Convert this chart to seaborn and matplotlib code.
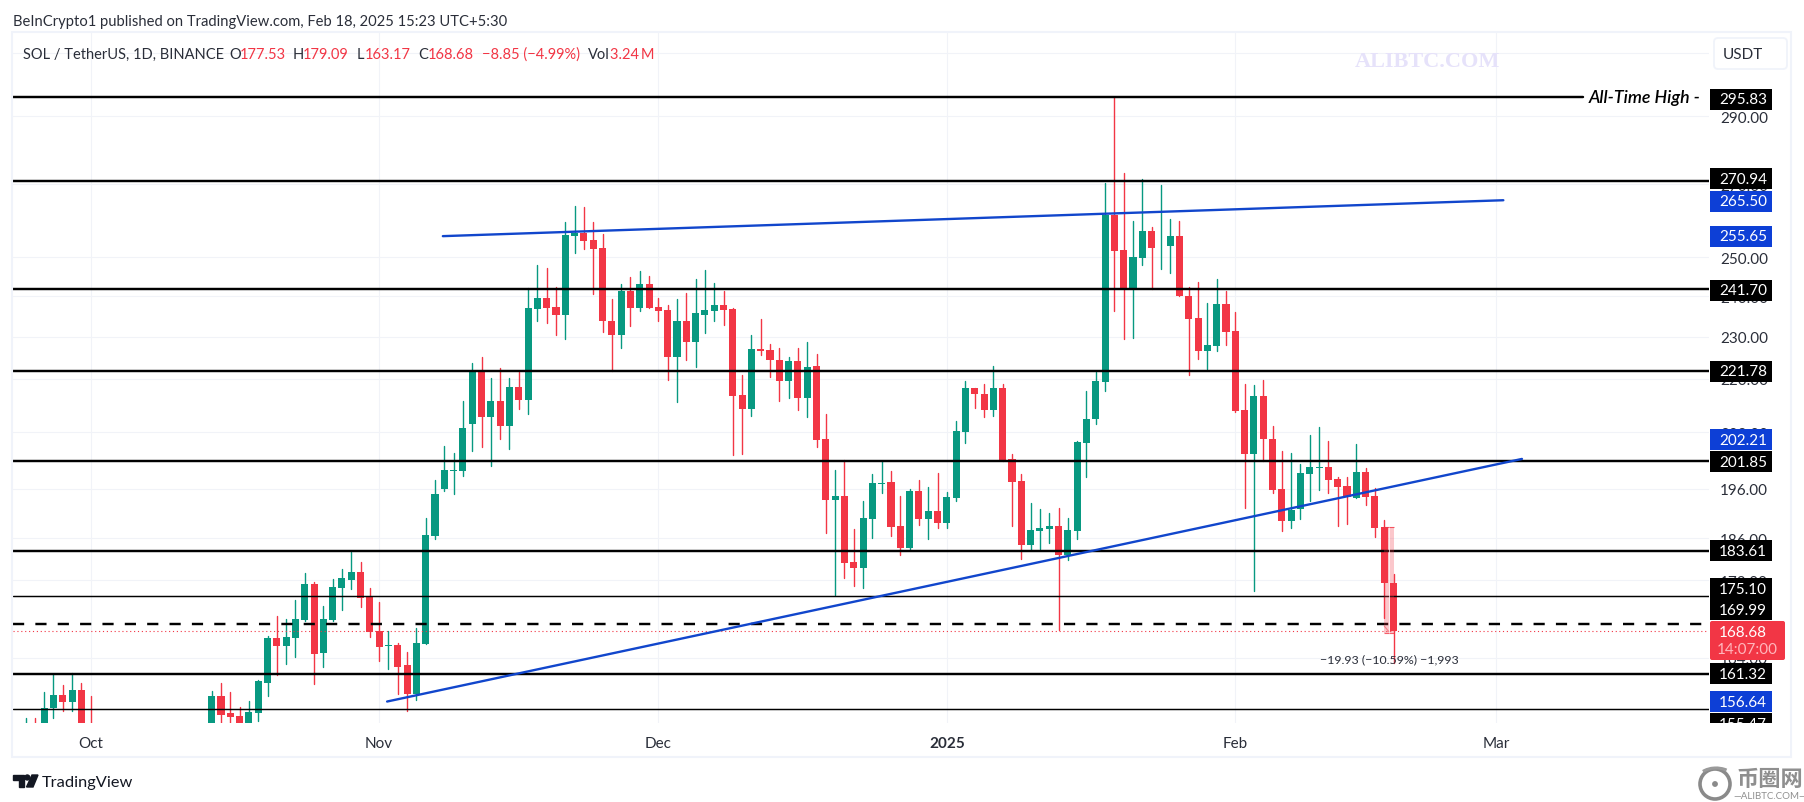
import pandas as pd
import matplotlib
matplotlib.use("Agg")
import matplotlib.pyplot as plt
import seaborn as sns
from matplotlib.patches import Rectangle, Circle, Polygon, FancyBboxPatch, Arc
from matplotlib.transforms import IdentityTransform

# candles visible in the pane (about 12 days in October sit below it)
first_run = pd.date_range("2024-09-24", "2024-10-01")
second_run = pd.date_range("2024-10-14", "2025-02-18")

opens = [
    150, 152, 150, 155.5, 157.8, 156.6, 158.6, 152,
    150, 157.6, 154.7, 154.3, 152, 154.7, 159.8, 167.4, 166.0, 167.4,
    170.7, 177.3, 164.9, 170.7, 176.6, 178.0, 179.5, 174.8, 168.7, 166.1,
    166.2, 162.7, 157.9, 166.4, 186.4, 196.0, 199.6, 199.6, 209.7, 221.5,
    211.3, 215.0, 209.3, 218.2, 215.2, 236.9, 239.6, 237.4, 235.2, 255.6,
    256.4, 254.6, 252.6, 233.9, 230.3, 241.4, 237.1, 243.2, 237.4, 236.6,
    225.2, 233.7, 228.8, 235.4, 236.4, 237.9, 236.9, 216.3, 213.2, 227.0,
    226.8, 224.5, 219.6, 224.1, 215.7, 223.1, 206.4, 193.6, 194.4, 181.4,
    180.3, 189.8, 196.9, 197.3, 188.4, 184.1, 195.4, 189.8, 191.4, 189.0,
    194.0, 208.0, 217.8, 216.6, 213.0, 218.0, 202.1, 197.5, 184.7, 187.4,
    187.8, 188.4, 182.8, 187.4, 205.6, 210.8, 219.2, 261.5, 252.0, 241.6,
    249.9, 257.1, 252.9, 252.9, 255.6, 240.1, 234.6, 226.6, 227.8, 238.1,
    231.4, 212.8, 203.2, 216.1, 206.6, 196.0, 189.4, 191.8, 199.0, 200.2,
    200.4, 197.9, 196.6, 194.0, 199.4, 194.4, 188.2, 177.53,
]
highs = [
    154.0, 153.9, 158.2, 161.3, 159.4, 161.5, 159.8, 157.6,
    158.4, 159.8, 158.2, 155.8, 156.8, 160.2, 167.9, 171.4, 170.8, 174.3,
    179.4, 177.7, 173.2, 178.2, 180.1, 183.3, 181.4, 176.5, 173.9, 168.7,
    166.6, 165.0, 169.3, 190.0, 197.7, 204.9, 203.4, 215.0, 223.8, 225.0,
    220.3, 222.6, 220.3, 221.5, 242.1, 248.1, 247.3, 242.4, 259.5, 263.8,
    263.5, 259.5, 256.3, 239.4, 243.2, 244.9, 246.5, 245.2, 239.6, 237.9,
    239.4, 240.9, 244.4, 246.8, 243.4, 241.4, 237.1, 221.0, 230.5, 234.4,
    228.3, 227.3, 225.2, 227.3, 228.8, 225.9, 211.9, 199.8, 201.9, 187.8,
    193.4, 199.0, 201.7, 199.6, 194.4, 196.0, 197.7, 196.4, 199.2, 195.2,
    210.4, 219.6, 218.0, 218.9, 223.1, 218.9, 203.2, 199.0, 193.0, 191.8,
    191.0, 192.0, 190.0, 206.0, 217.1, 221.5, 270.4, 295.83, 273.1, 259.8,
    271.5, 258.2, 269.9, 260.4, 259.8, 242.4, 243.6, 238.4, 244.4, 241.4,
    236.1, 218.7, 218.5, 219.8, 209.3, 203.8, 203.4, 201.1, 207.3, 209.1,
    206.0, 198.4, 198.4, 205.4, 200.2, 196.2, 189.6, 179.09,
]
lows = [
    148, 148, 148, 153.9, 155.1, 155.1, 148, 148,
    148, 152, 152, 151, 151, 153.4, 157.6, 161.1, 163.0, 164.1,
    170.5, 159.5, 162.5, 170.5, 172.5, 176.3, 173.0, 167.6, 163.4, 162.1,
    157.9, 155.1, 156.9, 166.4, 185.8, 195.6, 194.8, 198.6, 204.0, 204.7,
    200.7, 206.6, 204.4, 213.2, 211.9, 233.9, 233.2, 230.3, 229.5, 251.2,
    252.3, 240.6, 231.0, 221.9, 227.3, 232.7, 236.4, 237.1, 233.9, 219.8,
    214.8, 224.5, 222.8, 230.8, 233.9, 232.9, 203.0, 203.2, 211.5, 225.5,
    220.5, 215.0, 215.5, 213.0, 211.3, 204.7, 187.0, 175.2, 178.4, 176.9,
    176.5, 186.0, 195.0, 186.4, 182.8, 183.9, 188.6, 185.8, 188.0, 188.0,
    193.4, 205.6, 213.4, 211.3, 211.5, 201.7, 188.4, 182.0, 183.7, 183.9,
    185.0, 168.9, 181.8, 185.8, 198.4, 209.7, 217.1, 236.4, 229.3, 229.7,
    248.1, 241.9, 247.0, 246.0, 240.1, 220.8, 224.7, 222.3, 226.6, 228.0,
    212.4, 192.0, 175.9, 201.7, 195.0, 187.4, 188.0, 189.8, 193.4, 195.8,
    195.0, 188.4, 188.8, 194.0, 192.6, 186.2, 171.0, 163.17,
]
closes = [
    152, 150, 155.5, 157.8, 156.6, 158.6, 150, 150,
    157.6, 154.5, 154.1, 152, 154.9, 160.0, 167.4, 166.0, 167.6, 170.8,
    177.3, 164.7, 170.8, 176.8, 178.4, 179.5, 174.7, 168.5, 165.9, 166.3,
    162.5, 157.9, 166.6, 186.6, 194.9, 199.8, 199.8, 209.0, 221.5, 211.3,
    215.0, 209.3, 218.2, 215.2, 237.1, 239.6, 237.1, 235.2, 255.9, 256.4,
    254.4, 252.3, 233.7, 230.3, 241.4, 237.1, 243.2, 237.1, 236.4, 225.2,
    233.7, 228.8, 235.7, 236.6, 237.9, 236.6, 216.1, 213.2, 227.1, 226.6,
    224.3, 219.6, 224.1, 215.7, 222.8, 206.2, 193.6, 194.4, 181.2, 180.3,
    190.0, 197.1, 197.1, 188.2, 184.1, 195.4, 189.8, 191.4, 189.0, 194.2,
    208.2, 217.8, 216.4, 213.0, 218.0, 201.9, 197.3, 184.7, 187.6, 188.0,
    188.4, 182.8, 187.6, 205.8, 211.0, 219.4, 261.5, 251.8, 241.6, 250.2,
    257.1, 252.6, 253.1, 255.6, 240.1, 234.4, 226.6, 228.0, 238.1, 231.2,
    212.6, 203.2, 216.1, 206.4, 195.8, 189.4, 191.6, 199.2, 200.4, 200.4,
    197.7, 196.4, 194.2, 199.4, 194.2, 188.0, 177.53, 168.68,
]

thick_levels = [270.94, 241.70, 221.78, 201.85, 183.61, 161.32]
thin_levels = [175.10, 155.47]
ath_level = 295.83
dashed_level = 169.99
last_close = 168.68

trend_top_days = [37.84, 151.8]
trend_top_prices = [255.65, 265.50]
trend_low_days = [31.85, 153.8]
trend_low_prices = [156.64, 202.21]

measure_days = [139.0, 140.0]
measure_prices = [188.2, 168.3]

grid_prices = [310, 290, 270, 250, 240, 230, 220, 208, 196, 186, 178, 164]
grid_labels = ["", "290.00", "270.00", "250.00", "240.00", "230.00", "220.00",
               "208.00", "196.00", "186.00", "178.00", "164.00"]
month_dates = ["2024-10-01", "2024-11-01", "2024-12-01", "2025-01-01", "2025-02-01", "2025-03-01"]
month_labels = ["Oct", "Nov", "Dec", "2025", "Feb", "Mar"]

# price tags on the axis: value, colour, pixels moved up so they do not overlap
black_tag = "#000000"
blue_tag = "#0d3fd6"
price_tags = [
    (295.83, black_tag, -2), (270.94, black_tag, 2), (265.50, blue_tag, -1),
    (255.65, blue_tag, 0), (241.70, black_tag, -1), (221.78, black_tag, 0),
    (202.21, blue_tag, 19), (201.85, black_tag, -1), (183.61, black_tag, 0),
    (175.10, black_tag, 7), (169.99, black_tag, 14), (161.32, black_tag, 0),
    (156.64, blue_tag, 0), (155.47, black_tag, -15),
]

green = "#089981"
red = "#f23645"
blue = "#1146cc"
grid_col = "#f1f3f8"
txt_col = "#2a2e39"

sns.set_theme(style="white")
plt.rcParams["font.family"] = ["Lato", "Noto Sans CJK SC", "DejaVu Sans"]

W, H = 1804, 803
fig = plt.figure(figsize=(W / 100, H / 100), dpi=100, facecolor="white")
ax = fig.add_axes([13 / W, 1 - 724 / H, (1709 - 13) / W, (724 - 34) / H])

origin = pd.Timestamp("2024-10-01")
df = pd.DataFrame({
    "date": first_run.append(second_run),
    "open": opens, "high": highs, "low": lows, "close": closes,
})
df["day"] = (df["date"] - origin).dt.days
df["up"] = df["close"] >= df["open"]
df["candle"] = range(len(df))

# wicks
wicks = df.melt(id_vars=["candle", "day", "up"], value_vars=["high", "low"], value_name="price")
sns.lineplot(data=wicks, x="day", y="price", units="candle", estimator=None, hue="up",
             palette={True: green, False: red}, linewidth=1.0, legend=False, sort=False, ax=ax, zorder=2)

# bodies
body_low = df[["open", "close"]].min(axis=1)
body_high = df[["open", "close"]].max(axis=1)
ax.bar(df["day"], body_high - body_low, bottom=body_low, width=0.76,
       color=[green if u else red for u in df["up"]], linewidth=0, zorder=3)

ax.set_yscale("log")
ax.set_xlim(-8.35, 173.9)
ax.set_ylim(153.14, 316.6)

month_days = [(pd.Timestamp(m) - origin).days for m in month_dates]
ax.set_xticks(month_days, labels=month_labels)
ax.set_yticks(grid_prices, labels=grid_labels)
ax.minorticks_off()
ax.yaxis.tick_right()
ax.tick_params(axis="both", length=0, labelsize=11, labelcolor=txt_col)
ax.tick_params(axis="x", pad=9)
ax.tick_params(axis="y", pad=8)
ax.get_xticklabels()[3].set_fontweight("bold")
ax.grid(True, color=grid_col, linewidth=0.8, zorder=0)
ax.set_axisbelow(True)
ax.set_xlabel("")
ax.set_ylabel("")
sns.despine(ax=ax, left=True, right=True, top=True, bottom=True)

# horizontal levels
for lv in thick_levels:
    ax.axhline(lv, color="black", linewidth=1.75, zorder=5)
for lv in thin_levels:
    ax.axhline(lv, color="black", linewidth=1.05, zorder=5)
ax.axhline(ath_level, xmax=(1583 - 13) / (1709 - 13), color="black", linewidth=1.75, zorder=5)
ax.axhline(dashed_level, color="black", linewidth=1.75, linestyle=(0, (4.6, 4.6)), zorder=5)
ax.axhline(last_close, color=red, linewidth=0.8, linestyle=(0, (1, 2.5)), zorder=4)

# trend lines
sns.lineplot(x=trend_top_days, y=trend_top_prices, color=blue, linewidth=1.7, ax=ax, zorder=6)
sns.lineplot(x=trend_low_days, y=trend_low_prices, color=blue, linewidth=1.7, ax=ax, zorder=6)

# measure box on the last two candles
ax.fill_between(measure_days, measure_prices[1], measure_prices[0], color=red, alpha=0.28, linewidth=0, zorder=7)
ax.hlines(measure_prices, measure_days[0], measure_days[1], color=red, linewidth=0.8, alpha=0.8, zorder=7)
ax.vlines(sum(measure_days) / 2, measure_prices[1], measure_prices[0], color="white", linewidth=0.7, alpha=0.7, zorder=7)
ax.text(sum(measure_days) / 2, 163.8, "\u221219.93 (\u221210.59%) \u22121,993", ha="center", va="center",
        fontsize=8.9, color=txt_col, zorder=8)
ax.plot([139.0, 139.5], [169.6, 168.6], color=red, linewidth=0.8, alpha=0.5, zorder=7)


def px(x, y):
    return x, H - y


def label(x, y, s, **kw):
    kw.setdefault("color", txt_col)
    kw.setdefault("va", "center")
    kw.setdefault("fontsize", 11)
    return fig.text(*px(x, y), s, transform=IdentityTransform(), **kw)


def add(artist):
    artist.set_transform(IdentityTransform())
    fig.add_artist(artist)
    return artist


# outer frame
add(Rectangle(px(12, 758), 1791 - 12, 758 - 33, fill=False, edgecolor="#f0f3fa", linewidth=1.5, zorder=0.5))

# price tags
fig.canvas.draw()
for value, col, shift in price_tags:
    yc = ax.transData.transform((0, value))[1] + shift
    add(Rectangle((1710, yc - 10.5), 62, 21, facecolor=col, edgecolor="none", zorder=2))
    fig.text(1743, yc, f"{value:.2f}", transform=IdentityTransform(), color="white",
             fontsize=11, ha="center", va="center", zorder=3)
add(FancyBboxPatch(px(1710, 661), 75, 39, boxstyle="round,pad=0,rounding_size=2", facecolor=red,
                   edgecolor="none", zorder=3))
label(1743, 633, "168.68", color="white", ha="center", zorder=3.5)
label(1747, 650, "14:07:00", color="#ffb6bc", ha="center", zorder=3.5)
add(Rectangle(px(1700, 756), 90, 32, facecolor="white", edgecolor="none", zorder=4))

# USDT button
add(FancyBboxPatch(px(1714, 70), 73, 31, boxstyle="round,pad=0,rounding_size=4", facecolor="white",
                   edgecolor="#f0f3fa", linewidth=1.3, zorder=2))
label(1743, 55, "USDT", ha="center", zorder=3)

label(1589, 98, "All-Time High -", color="black", fontsize=12.8, style="italic", fontweight="semibold", zorder=3)

# header
label(13, 22, "BeInCrypto1 published on TradingView.com, Feb 18, 2025 15:23 UTC+5:30", fontsize=10.65)
label(23, 55, "SOL / TetherUS, 1D, BINANCE", fontsize=10.5)
for x, s in [(229, "O"), (293, "H"), (357, "L"), (418, "C"), (588, "Vol")]:
    label(x, 55, s, fontsize=10.5)
for x, s in [(240, "177.53"), (303, "179.09"), (365, "163.17"), (428, "168.68"),
             (482, "\u22128.85 (\u22124.99%)"), (610, "3.24\u2009M")]:
    label(x, 55, s, fontsize=10.5, color=red)

# watermark
label(1355, 62, "ALIBTC.COM", family="Liberation Serif", fontweight="bold", fontsize=16, color="#e6e2fa", zorder=3)

# TradingView logo
add(Polygon([px(13, 776), px(24, 776), px(24, 788), px(18.5, 788), px(18.5, 781), px(13, 781)], color="#131722"))
add(Circle(px(27.3, 778.5), 2.5, color="#131722"))
add(Polygon([px(32, 776), px(38, 776), px(33, 788), px(26.5, 788)], color="#131722"))
label(42, 783, "TradingView", color="#131722", fontsize=11.8)

# site logo in the corner
add(Circle(px(1715, 785), 15, fill=False, edgecolor="#8a8a8a", linewidth=2.6))
add(Circle(px(1715, 785), 2.2, color="#8a8a8a"))
add(Arc(px(1716, 780), 36, 22, theta1=40, theta2=150, edgecolor="#9a9a9a", linewidth=2.2))
label(1770, 780, "\u5e01\u5708\u7f51", family="Noto Sans CJK SC", fontsize=16, color="#8f8f8f",
      ha="center", fontweight="bold")
label(1770, 797, "\u2014ALIBTC.COM\u2014", fontsize=7, color="#8f8f8f", ha="center")

fig.savefig("out.png", dpi=100)
